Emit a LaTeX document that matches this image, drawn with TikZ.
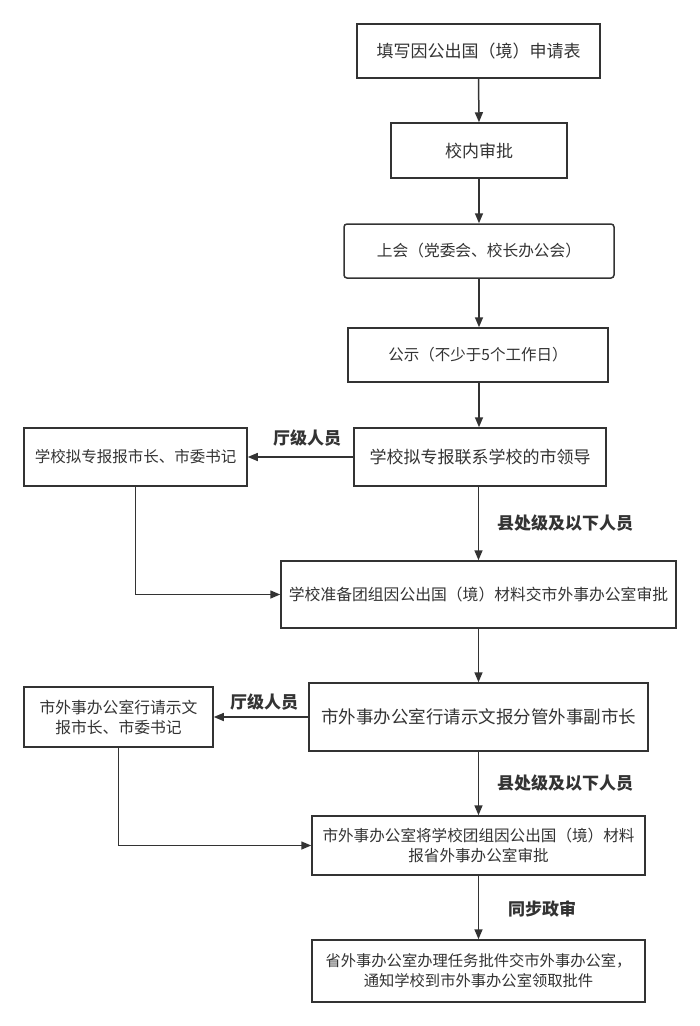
\documentclass[tikz,border=0pt]{standalone}
\usepackage{fontspec}
\setmainfont{Noto Sans CJK SC}
\usetikzlibrary{arrows.meta,positioning}
\definecolor{ink}{HTML}{333333}
\tikzset{
  box/.style={draw=ink, line width=1.5pt, fill=white, text=ink, inner sep=0pt, align=center, rectangle},
  fs/.style={font=\fontsize{#1}{20}\selectfont},
  lbl/.style={text=ink, font=\fontsize{17}{20}\selectfont\bfseries, inner sep=0pt},
  conn/.style={draw=ink, line width=1.5pt, -{Triangle[length=10pt,width=8pt]}},
}
\begin{document}
\begin{tikzpicture}[x=1pt,y=-1pt]
\useasboundingbox (0,0) rectangle (700,1026);
\node[box, fs=17, minimum width=243pt, minimum height=54pt] (n1) at (478.5,51) {填写因公出国（境）申请表};
\node[box, fs=17, minimum width=176pt, minimum height=55pt] (n2) at (479,150.5) {校内审批};
\node[box, fs=15.7, rounded corners=3pt, minimum width=270pt, minimum height=54pt] (n3) at (479,251) {上会（党委会、校长办公会）};
\node[box, fs=15.5, minimum width=260pt, minimum height=54pt] (n4) at (478,355) {公示（不少于5个工作日）};
\node[box, fs=17, minimum width=252pt, minimum height=58pt] (n5) at (480,457) {学校拟专报联系学校的市领导};
\node[box, fs=15.5, minimum width=223pt, minimum height=58pt] (nA) at (135.5,457) {学校拟专报报市长、市委书记};
\node[box, fs=15.8, minimum width=395pt, minimum height=67pt] (n6) at (478.5,594.5) {学校准备团组因公出国（境）材料交市外事办公室审批};
\node[box, fs=17.5, minimum width=339pt, minimum height=68pt] (n7) at (478.5,717) {市外事办公室行请示文报分管外事副市长};
\node[box, fs=15.8, minimum width=189pt, minimum height=60pt] (nB) at (118.5,717) {市外事办公室行请示文\\报市长、市委书记};
\node[box, fs=15.6, minimum width=333pt, minimum height=59pt] (n8) at (478.5,845.5) {市外事办公室将学校团组因公出国（境）材料\\报省外事办公室审批};
\node[box, fs=15.3, minimum width=333pt, minimum height=62pt] (n9) at (478.5,971) {省外事办公室办理任务批件交市外事办公室，\\通知学校到市外事办公室领取批件};

\node[lbl] (l1) at (307,438) {厅级人员};
\node[lbl] (l2) at (565,523) {县处级及以下人员};
\node[lbl] (l3) at (264,702) {厅级人员};
\node[lbl] (l4) at (565,783) {县处级及以下人员};
\node[lbl] (l5) at (542,909) {同步政审};

\draw[conn] (n1.south) -- (n2.north);
\draw[conn] (n2.south) -- (n3.north);
\draw[conn] (n3.south) -- (n3.south |- n4.north);
\draw[conn] (n4.south -| n3.south) -- (n3.south |- n5.north);
\draw[conn] (n5.west) -- (nA.east);
\draw[conn] (n5.south -| n6.north) -- (n6.north);
\draw[conn] (nA.south) -- (nA.south |- n6.west) -- (n6.west);
\draw[conn] (n6.south) -- (n7.north);
\draw[conn] (n7.west) -- (nB.east);
\draw[conn] (n7.south) -- (n8.north);
\draw[conn] (nB.south) -- (nB.south |- n8.west) -- (n8.west);
\draw[conn] (n8.south) -- (n9.north);
\end{tikzpicture}
\end{document}
